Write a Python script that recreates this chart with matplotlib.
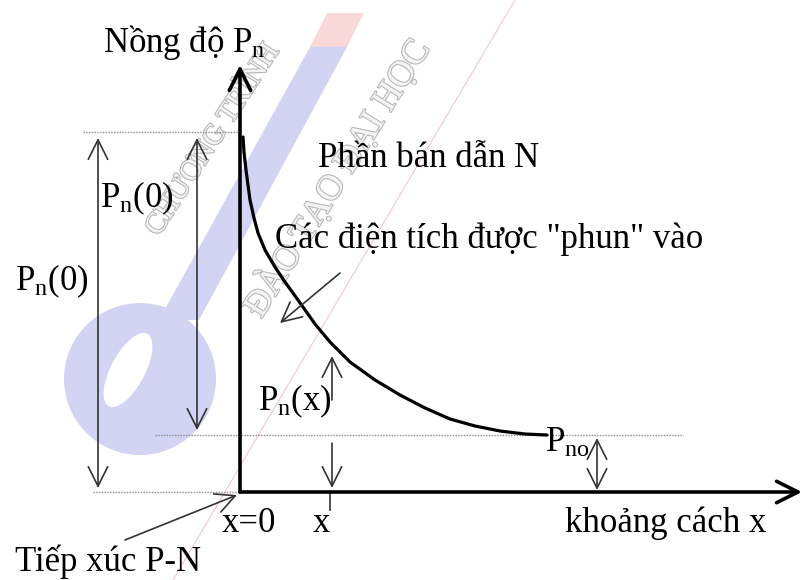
import numpy as np
import matplotlib.pyplot as plt
import matplotlib.patheffects as pe
from matplotlib.patches import Circle, Ellipse, Polygon

plt.rcParams['font.family'] = ['Liberation Serif', 'DejaVu Serif']
plt.rcParams['mathtext.fontset'] = 'custom'
plt.rcParams['mathtext.rm'] = 'Liberation Serif'
plt.rcParams['mathtext.it'] = 'Liberation Serif:italic'

# nồng độ lỗ trống trong bán dẫn N theo khoảng cách (đơn vị tùy ý)
dist = [3, 4, 6, 10, 14, 18, 25, 35, 45, 58, 75, 90, 110, 135, 160, 185,
        210, 235, 260, 285, 307]
conc = [355, 340, 322, 292, 274, 259, 242, 225, 210, 192, 168, 150, 130,
        112, 97, 84, 73, 66, 61, 58, 57]
p_n0 = 360      # Pn(0)
p_no = 57       # Pno
x_mark = 92     # vị trí x
y_top = 427
x_end = 562

fig = plt.figure(figsize=(8.04, 5.8), dpi=100)
ax = fig.add_axes([0, 0, 1, 1])
ax.set_xlim(-240, 564)
ax.set_ylim(-88, 492)
ax.axis('off')

# logo mờ phía sau
blue = '#d3d3f4'
ax.add_patch(Circle((-100, 113), 76, color=blue, lw=0, zorder=0))
ax.add_patch(Ellipse((-112, 122), 82, 34, angle=62, color='white', lw=0, zorder=0))
ax.add_patch(Polygon([(-81, 172), (-41, 172), (107, 445), (70, 445)],
                     color=blue, lw=0, zorder=0))
ax.add_patch(Polygon([(70, 445), (107, 445), (124, 479), (87, 479)],
                     color='#f8d8d8', lw=0, zorder=0))
ax.plot([275, -67], [492, -88], color='#f2c8c8', lw=0.8, zorder=0)
wm = dict(ha='center', va='center', color='#f4f4f4', zorder=0,
          path_effects=[pe.withStroke(linewidth=1.6, foreground='#b8b8b8')])
ax.text(-27, 352, 'CHƯƠNG TRÌNH', rotation=57, fontsize=21, **wm)
ax.text(97, 314, 'ĐÀO TẠO ĐẠI HỌC', rotation=58, fontsize=26, **wm)


def arrow(x0, y0, x1, y1, style='->', lw=1.2, color='#333333', scale=20):
    ax.annotate('', xy=(x1, y1), xytext=(x0, y0),
                arrowprops=dict(arrowstyle=style + ',head_length=0.7,head_width=0.35',
                                lw=lw, color=color, shrinkA=0, shrinkB=0,
                                mutation_scale=scale))


# đường chấm ngang
dot = dict(ls=(0, (1, 1)), color='#8a8a8a', lw=1.0, zorder=1)
ax.plot([-157, 0], [p_n0, p_n0], **dot)
ax.plot([-85, 443], [p_no, p_no], **dot)
ax.plot([-147, 0], [0, 0], **dot)

# trục
arrow(0, 0, 0, y_top, lw=2.6, color='black', scale=22)
arrow(0, 0, x_end, 0, lw=2.6, color='black', scale=22)

# đường nồng độ
ax.plot(dist, conc, color='black', lw=2.3, solid_capstyle='round', zorder=3)

# mũi tên kích thước
arrow(-142, p_n0 - 6, -142, 4, style='<->')
arrow(-43, p_n0 - 6, -43, p_no + 5, style='<->')
y_curve = np.interp(x_mark, dist, conc)
arrow(x_mark, 92, x_mark, y_curve - 12)
arrow(x_mark, p_no - 8, x_mark, 4)
ax.plot([x_mark - 2, x_mark - 2], [0, -18], color='#333333', lw=1.2)
arrow(357, p_no - 3, 357, 2, style='<->')
arrow(100, 219, 40, 169)
arrow(-115, -48, -3, -3)

fs = 25
ax.text(-137, 440, 'Nồng độ P$_\\mathrm{n}$', fontsize=fs, va='baseline')
ax.text(78, 325, 'Phần bán dẫn N', fontsize=fs, va='baseline')
ax.text(35, 244, 'Các điện tích được "phun" vào', fontsize=fs, va='baseline')
ax.text(-140, 285, 'P$_\\mathrm{n}$(0)', fontsize=fs, va='baseline')
ax.text(-225, 202, 'P$_\\mathrm{n}$(0)', fontsize=fs, va='baseline')
ax.text(18, 82, 'P$_\\mathrm{n}$(x)', fontsize=fs, va='baseline')
ax.text(305, 40, 'P$_\\mathrm{no}$', fontsize=fs, va='baseline')
ax.text(-18, -40, 'x=0', fontsize=fs, va='baseline')
ax.text(73, -40, 'x', fontsize=fs, va='baseline')
ax.text(325, -40, 'khoảng cách x', fontsize=fs, va='baseline')
ax.text(-225, -79, 'Tiếp xúc P-N', fontsize=fs, va='baseline')

fig.savefig('out.png', dpi=100)
